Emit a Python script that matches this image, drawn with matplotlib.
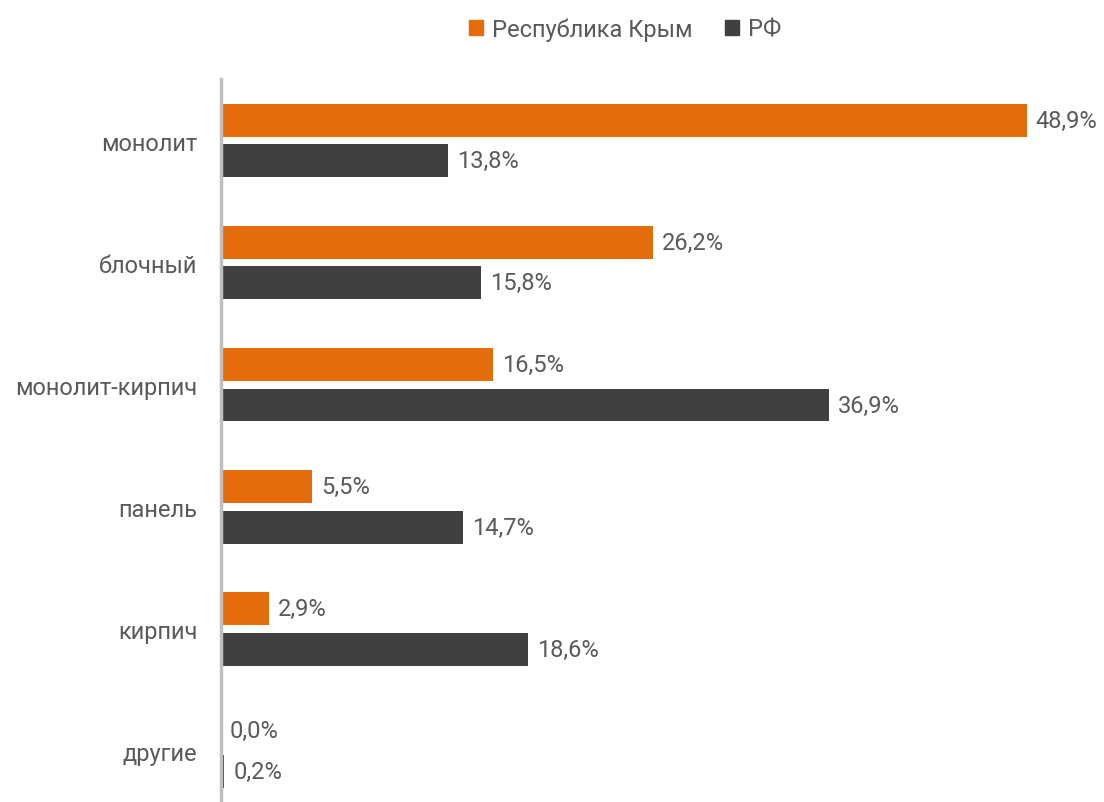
import numpy as np
import matplotlib.pyplot as plt
from matplotlib.patches import Patch

plt.rcParams['font.family'] = ['Roboto', 'DejaVu Sans']

categories = ['монолит', 'блочный', 'монолит-кирпич', 'панель', 'кирпич', 'другие']
crimea = [48.9, 26.2, 16.5, 5.5, 2.9, 0.0]
rf = [13.8, 15.8, 36.9, 14.7, 18.6, 0.2]
series_names = ['Республика Крым', 'РФ']

orange = '#e46c0a'
dark = '#404040'
text_col = '#595959'
fs = 17

fig = plt.figure(figsize=(11.04, 8.03), dpi=100)
ax = fig.add_axes([221 / 1104, 0, 1 - 221 / 1104, 1 - 80 / 803])

y = np.arange(len(categories))
h = 0.27
off = 0.167
ax.barh(y - off, crimea, height=h, color=orange)
ax.barh(y + off, rf, height=h, color=dark)

for yi, v in zip(y, crimea):
    ax.text(v + 0.55, yi - off, f'{v:.1f}%'.replace('.', ','), va='center', ha='left',
            fontsize=fs, color=text_col)
for yi, v in zip(y, rf):
    ax.text(v + 0.55, yi + off, f'{v:.1f}%'.replace('.', ','), va='center', ha='left',
            fontsize=fs, color=text_col)

ax.set_xlim(0, (1104 - 221) / 16.48)
ax.set_ylim(5.42, -0.504)
ax.set_yticks(y)
ax.set_yticklabels(categories, fontsize=fs, color=text_col)
ax.tick_params(axis='y', length=0, pad=17)
ax.set_xticks([])
for s in ['top', 'right', 'bottom']:
    ax.spines[s].set_visible(False)
ax.spines['left'].set_color('#bfbfbf')
ax.spines['left'].set_linewidth(2.5)
ax.spines['left'].set_zorder(5)

handles = [Patch(color=orange), Patch(color=dark)]
fig.legend(handles, series_names, loc='center', bbox_to_anchor=(625 / 1104, 1 - 30 / 803),
           ncol=2, frameon=False, fontsize=fs, labelcolor=text_col,
           handlelength=0.6, handleheight=0.6, handletextpad=0.35, columnspacing=1.4)

fig.savefig('out.png', dpi=100)
